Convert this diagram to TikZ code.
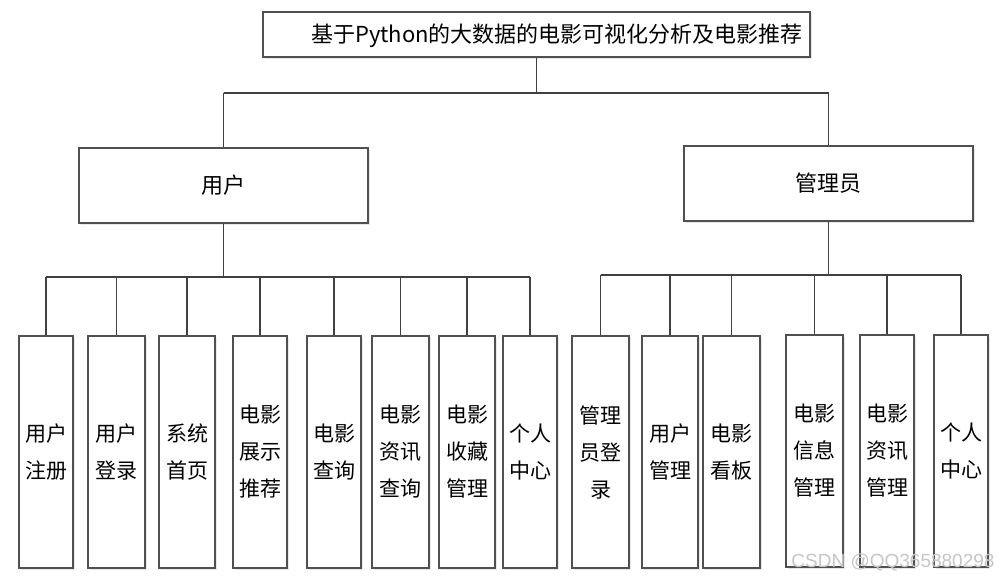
\documentclass[tikz,border=0pt]{standalone}
\usepackage{fontspec}
\newfontfamily\cjk{Noto Sans CJK SC}
\newfontfamily\wmfont{Liberation Sans}
\usetikzlibrary{shadows}
\definecolor{boxc}{HTML}{505050}
\definecolor{linec}{HTML}{404040}
\begin{document}
\begin{tikzpicture}[x=1pt,y=-1pt,
  box/.style={draw=boxc, line width=1.6pt, fill=white, inner sep=0pt, align=center,
    drop shadow={shadow xshift=2pt, shadow yshift=-2pt, opacity=0.18, fill=gray}},
  topbox/.style={box, minimum width=289pt, minimum height=75pt, font=\cjk\fontsize{22}{26}\selectfont},
  leaf/.style={box, minimum height=232pt, font=\cjk\fontsize{21}{37}\selectfont},
  conn/.style={draw=linec, line width=1.6pt}]
\useasboundingbox (0,0) rectangle (1000,580);
% title
\node[box, minimum width=547pt, minimum height=45pt] (title) at (536.5,34.5) {};
\node[font=\cjk\fontsize{22}{26}\selectfont, inner sep=0pt] (ttext) at (557,36) {基于Python的大数据的电影可视化分析及电影推荐};
% second level
\node[topbox] (user) at (223.5,185.5) {用户};
\node[topbox] (admin) at (828.5,183.5) {管理员};
% leaves (users)
\node[leaf, minimum width=54pt] (c1) at (46,452) {用户\\注册};
\node[leaf, minimum width=57pt] (c2) at (116.5,452) {用户\\登录};
\node[leaf, minimum width=56pt] (c3) at (187,452) {系统\\首页};
\node[leaf, minimum width=54pt] (c4) at (260,452) {电影\\展示\\推荐};
\node[leaf, minimum width=54pt] (c5) at (334,452) {电影\\查询};
\node[leaf, minimum width=57pt] (c6) at (400.5,452) {电影\\资讯\\查询};
\node[leaf, minimum width=56pt] (c7) at (467,452) {电影\\收藏\\管理};
\node[leaf, minimum width=54pt] (c8) at (530,452) {个人\\中心};
% leaves (admin)
\node[leaf, minimum width=57pt] (a1) at (600.5,452) {管理\\员登\\录};
\node[leaf, minimum width=56pt] (a2) at (670,452) {用户\\管理};
\node[leaf, minimum width=57pt] (a3) at (731.5,452) {电影\\看板};
\node[leaf, minimum width=57pt] (a4) at (814.5,451) {电影\\信息\\管理};
\node[leaf, minimum width=54pt] (a5) at (887,451) {电影\\资讯\\管理};
\node[leaf, minimum width=54pt] (a6) at (961,451) {个人\\中心};
% bus coordinates
\coordinate (bus0) at (0,93);
\coordinate (busU) at (0,277);
\coordinate (busA) at (0,275);
% connectors
\draw[conn] (title.south) -- (title.south |- bus0);
\draw[conn] (user.north |- bus0) -- (admin.north |- bus0);
\draw[conn] (user.north |- bus0) -- (user.north);
\draw[conn] (admin.north |- bus0) -- (admin.north);
\draw[conn] (user.south) -- (user.south |- busU);
\draw[conn] (c1.north |- busU) -- (c8.north |- busU);
\foreach \n in {c1,c2,c3,c4,c5,c6,c7,c8}{
  \draw[conn] (\n.north |- busU) -- (\n.north);
}
\draw[conn] (admin.south) -- (admin.south |- busA);
\draw[conn] (a1.north |- busA) -- (a6.north |- busA);
\foreach \n in {a1,a2,a3,a4,a5,a6}{
  \draw[conn] (\n.north |- busA) -- (\n.north);
}
% watermark
\node[font=\wmfont\fontsize{19}{22}\selectfont, text=gray!45, inner sep=0pt] (wm) at (893,562) {CSDN @QQ365880298};
\end{tikzpicture}
\end{document}
